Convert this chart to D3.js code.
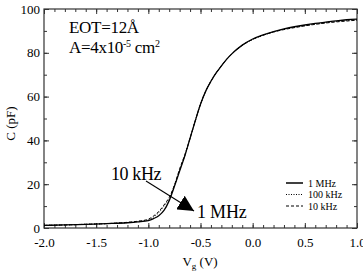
<!DOCTYPE html>
<html lang="en">
<head>
<meta charset="UTF-8">
<title>C-V</title>
<script src="https://d3js.org/d3.v7.min.js"></script>
<style>
  body { margin: 0; background: #fff; }
  text { font-family: "Liberation Serif", "DejaVu Serif", serif; fill: #000; }
</style>
</head>
<body>
<div id="chart"></div>
<script>
// gate voltage (V) and capacitance (pF)
const vg1M = [-2.0, -1.8, -1.6, -1.4, -1.2, -1.1, -1.0, -0.95, -0.9, -0.85, -0.8, -0.75, -0.7, -0.65, -0.6, -0.55, -0.5, -0.45, -0.4, -0.35, -0.3, -0.25, -0.2, -0.1, 0.0, 0.1, 0.2, 0.3, 0.4, 0.5, 0.6, 0.7, 0.8, 0.9, 1.0];
const c1M  = [1.2, 1.4, 1.7, 2.0, 2.4, 2.8, 3.4, 4.3, 5.6, 8.0, 12.5, 19, 26, 33, 41, 49, 56.5, 62.5, 67, 70.8, 74, 77, 79.5, 83.5, 86.3, 88.2, 89.7, 90.9, 91.9, 92.7, 93.4, 94.0, 94.6, 95.1, 95.4];
const vg100k = [-2.0, -1.8, -1.6, -1.4, -1.2, -1.1, -1.0, -0.95, -0.9, -0.85, -0.8, -0.75, -0.7, -0.65, -0.6, -0.55, -0.5, -0.45, -0.4, -0.35, -0.3, -0.25, -0.2, -0.1, 0.0, 0.1, 0.2, 0.3, 0.4, 0.5, 0.6, 0.7, 0.8, 0.9, 1.0];
const c100k  = [1.2, 1.4, 1.7, 2.0, 2.5, 3.0, 3.8, 5.0, 7.0, 10.0, 13.5, 19.5, 26.5, 33, 41, 49, 56.5, 62.5, 67, 70.8, 74, 77, 79.5, 83.4, 86.1, 88.0, 89.5, 90.7, 91.6, 92.4, 93.1, 93.7, 94.3, 94.7, 95.0];
const vg10k = [-2.0, -1.8, -1.6, -1.4, -1.2, -1.1, -1.0, -0.95, -0.9, -0.85, -0.8, -0.75, -0.7, -0.65, -0.6, -0.55, -0.5, -0.45, -0.4, -0.35, -0.3, -0.25, -0.2, -0.1, 0.0, 0.1, 0.2, 0.3, 0.4, 0.5, 0.6, 0.7, 0.8, 0.9, 1.0];
const c10k  = [1.2, 1.4, 1.7, 2.0, 2.6, 3.1, 4.0, 5.5, 7.5, 10.5, 14, 19.5, 27, 33.5, 41, 49, 56.5, 62.5, 67, 70.8, 74, 77, 79.5, 83.4, 86.1, 88.0, 89.5, 90.6, 91.5, 92.3, 93.0, 93.6, 94.1, 94.5, 94.9];

const seriesNames = ["1 MHz", "100 kHz", "10 kHz"];
const xTicks = [-2.0, -1.5, -1.0, -0.5, 0.0, 0.5, 1.0];
const yTicks = [0, 20, 40, 60, 80, 100];

const W = 363, H = 275;
const margin = {top: 9, right: 6, bottom: 47, left: 44};
const width = W - margin.left - margin.right,
      height = H - margin.top - margin.bottom;

const svg = d3.select("#chart").append("svg")
    .attr("width", W).attr("height", H);
const g = svg.append("g")
    .attr("transform", `translate(${margin.left},${margin.top})`);

const x = d3.scaleLinear().domain([-2, 1]).range([0, width]);
const y = d3.scaleLinear().domain([0, 100]).range([height, 0]);

const fmtX = d => d3.format(".1f")(d).replace("−", "-");

// minor ticks
const xMinor = d3.range(-2, 1.0001, 0.1).map(v => +v.toFixed(1));
const yMinor = d3.range(0, 101, 10);

function axisGroup(axisFn, scale, ticks, minor, tr, labels) {
  const gm = g.append("g").attr("transform", tr)
    .call(axisFn(scale).tickValues(minor).tickSize(-3).tickFormat(""));
  gm.select(".domain").remove();
  const gM = g.append("g").attr("transform", tr)
    .call(axisFn(scale).tickValues(ticks).tickSize(-5).tickPadding(8).tickFormat(labels ? labels : ""));
  gM.select(".domain").remove();
  gM.selectAll("text").style("font-size", "13px")
    .style("font-family", "'Liberation Serif', serif");
  gm.selectAll("line").attr("stroke", "#333");
  gM.selectAll("line").attr("stroke", "#333");
  return gM;
}

axisGroup(d3.axisBottom, x, xTicks, xMinor, `translate(0,${height})`, fmtX)
  .selectAll("text").attr("dy", "0.85em");
axisGroup(d3.axisTop, x, xTicks, xMinor, `translate(0,0)`, null);
axisGroup(d3.axisLeft, y, yTicks, yMinor, `translate(0,0)`, d3.format("d"))
  .selectAll("text").attr("dx", "0.3em");
axisGroup(d3.axisRight, y, yTicks, yMinor, `translate(${width},0)`, null);

g.append("rect")
  .attr("width", width).attr("height", height)
  .attr("fill", "none").attr("stroke", "#333").attr("stroke-width", 1.2);

// curves
const line = d3.line().x(d => x(d[0])).y(d => y(d[1])).curve(d3.curveMonotoneX);
const series = [
  {pts: d3.zip(vg1M, c1M), dash: null, w: 1.3},
  {pts: d3.zip(vg100k, c100k), dash: "1,1.5", w: 0.9},
  {pts: d3.zip(vg10k, c10k), dash: "3,2", w: 1.0}
];
series.forEach(s => {
  g.append("path").datum(s.pts)
    .attr("d", line)
    .attr("fill", "none")
    .attr("stroke", "#000")
    .attr("stroke-width", s.w)
    .attr("stroke-dasharray", s.dash);
});

// axis titles
svg.append("text")
  .attr("transform", `translate(15,${margin.top + height / 2 + 5}) rotate(-90)`)
  .attr("text-anchor", "middle")
  .style("font-size", "13px")
  .text("C (pF)");

const xt = svg.append("text")
  .attr("x", 200).attr("y", 266)
  .attr("text-anchor", "middle")
  .style("font-size", "13px");
xt.append("tspan").text("V");
xt.append("tspan").attr("dy", 3).style("font-size", "9px").text("g");
xt.append("tspan").attr("dy", -3).text(" (V)");

// annotations
svg.append("text").attr("x", 69).attr("y", 33)
  .style("font-size", "17px").style("letter-spacing", "-0.3px")
  .text("EOT=12Å");
const area = svg.append("text").attr("x", 69).attr("y", 53)
  .style("font-size", "17px").style("letter-spacing", "-0.3px");
area.append("tspan").text("A=4x10");
area.append("tspan").attr("dy", -6).style("font-size", "10px").text("-5");
area.append("tspan").attr("dy", 6).text(" cm");
area.append("tspan").attr("dy", -6).style("font-size", "10px").text("2");

svg.append("text").attr("x", 111).attr("y", 180)
  .style("font-size", "18px").style("letter-spacing", "-0.4px").text("10 kHz");
svg.append("text").attr("x", 197).attr("y", 218)
  .style("font-size", "18px").style("letter-spacing", "-0.2px").text("1 MHz");

svg.append("defs").append("marker")
  .attr("id", "arr").attr("viewBox", "0 0 10 10")
  .attr("refX", 10).attr("refY", 5)
  .attr("markerWidth", 16).attr("markerHeight", 16)
  .attr("markerUnits", "userSpaceOnUse")
  .attr("orient", "auto")
  .append("path").attr("d", "M0,0 L10,5 L0,10 Z").attr("fill", "#000");
svg.append("line")
  .attr("x1", 146).attr("y1", 181).attr("x2", 194).attr("y2", 211)
  .attr("stroke", "#000").attr("stroke-width", 1.1)
  .attr("marker-end", "url(#arr)");

// legend
const legY = [183, 194.5, 206];
seriesNames.forEach((name, i) => {
  svg.append("line")
    .attr("x1", 286).attr("x2", 303)
    .attr("y1", legY[i]).attr("y2", legY[i])
    .attr("stroke", "#000")
    .attr("stroke-width", series[i].w + 0.2)
    .attr("stroke-dasharray", series[i].dash);
  svg.append("text")
    .attr("x", 308).attr("y", legY[i] + 3.5)
    .style("font-size", "10px")
    .text(name);
});
</script>
</body>
</html>
